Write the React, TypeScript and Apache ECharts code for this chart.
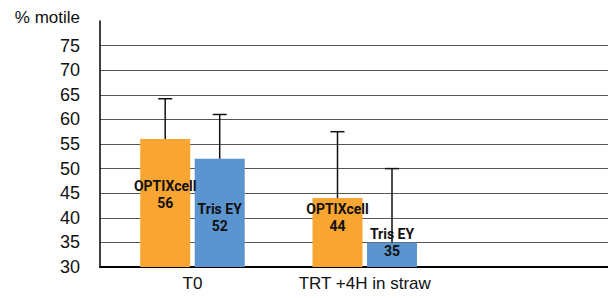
import React, { useEffect, useRef } from "react";
import * as echarts from "echarts";

const categories = ["T0", "TRT +4H in straw"];
const seriesNames = ["OPTIXcell", "Tris EY"];
const optixValues = [56, 44];
const trisValues = [52, 35];
const optixErrors = [8.2, 13.5];
const trisErrors = [9, 15];
const yMin = 30;
const yMax = 80;
const yStep = 5;

const ORANGE = "#F8A532";
const BLUE = "#5B94CE";
const BAR_W = 50;
const BAR_GAP_PX = 4.5;
const FONT = "'Liberation Sans', Arial, sans-serif";
const LABEL_FONT = "Roboto, 'Liberation Sans', sans-serif";

const optixLabelOffsets = [-8.5, -15.5];
const trisLabelOffsets = [4.5, -12];

export default function App() {
  const ref = useRef<HTMLDivElement>(null);
  useEffect(() => {
    if (!ref.current) return;
    const chart = echarts.init(ref.current, undefined, { renderer: "svg" });
    const top = 21;
    const bottom = 31;
    const labelStyle = {
      show: true,
      position: "inside",
      formatter: (p: any) => p.seriesName + "\n" + p.value,
      fontFamily: LABEL_FONT,
      fontSize: 14,
      fontWeight: "bold",
      lineHeight: 17,
      color: "#111",
    };
    const errData: any[] = [];
    optixValues.forEach((v, i) => errData.push([i, v, optixErrors[i], -1]));
    trisValues.forEach((v, i) => errData.push([i, v, trisErrors[i], 1]));
    const option: any = {
      animation: false,
      grid: [
        { left: 100, right: 0, top, bottom },
        { left: 106.3, width: 344.6, top, bottom },
      ],
      xAxis: [
        {
          gridIndex: 0,
          type: "value",
          min: 0,
          max: 1,
          axisLine: { show: true, onZero: false, lineStyle: { color: "#000", width: 2 } },
          axisTick: { show: false },
          axisLabel: { show: false },
          splitLine: { show: false },
        },
        {
          gridIndex: 1,
          type: "category",
          data: categories,
          axisLine: { show: false },
          axisTick: { show: false },
          axisLabel: { fontFamily: FONT, fontSize: 17, color: "#111", margin: 8 },
        },
      ],
      yAxis: [
        {
          gridIndex: 0,
          type: "value",
          min: yMin,
          max: yMax,
          interval: yStep,
          name: "% motile",
          nameLocation: "end",
          nameGap: 4,
          nameTextStyle: {
            fontFamily: FONT,
            fontSize: 17,
            color: "#111",
            align: "right",
            verticalAlign: "middle",
            padding: [0, 20, 0, 0],
          },
          axisLine: { show: true, lineStyle: { color: "#000", width: 1.5 } },
          axisTick: { show: false },
          axisLabel: {
            fontFamily: FONT,
            fontSize: 18,
            color: "#111",
            margin: 20,
            showMaxLabel: false,
          },
          splitLine: {
            show: true,
            showMaxLine: false,
            lineStyle: { color: "#555", width: 1 },
          },
        },
        {
          gridIndex: 1,
          type: "value",
          min: yMin,
          max: yMax,
          interval: yStep,
          show: false,
          splitLine: { show: false },
        },
      ],
      series: [
        {
          type: "bar",
          name: seriesNames[0],
          xAxisIndex: 1,
          yAxisIndex: 1,
          barWidth: BAR_W,
          barGap: (BAR_GAP_PX / BAR_W) * 100 + "%",
          itemStyle: { color: ORANGE },
          label: labelStyle,
          data: optixValues.map((v, i) => ({ value: v, label: { offset: [0, optixLabelOffsets[i]] } })),
          z: 2,
        },
        {
          type: "bar",
          name: seriesNames[1],
          xAxisIndex: 1,
          yAxisIndex: 1,
          barWidth: BAR_W,
          barGap: (BAR_GAP_PX / BAR_W) * 100 + "%",
          itemStyle: { color: BLUE },
          label: labelStyle,
          data: trisValues.map((v, i) => ({ value: v, label: { offset: [0, trisLabelOffsets[i]] } })),
          z: 2,
        },
        {
          type: "custom",
          xAxisIndex: 1,
          yAxisIndex: 1,
          z: 5,
          data: errData,
          renderItem: (params: any, api: any) => {
            const c = api.value(0);
            const v = api.value(1);
            const e = api.value(2);
            const side = api.value(3);
            const p0 = api.coord([c, v]);
            const p1 = api.coord([c, v + e]);
            const x = p0[0] + side * ((BAR_W + BAR_GAP_PX) / 2);
            const st = { stroke: "#111", lineWidth: 1.5 };
            return {
              type: "group",
              children: [
                { type: "line", shape: { x1: x, y1: p0[1], x2: x, y2: p1[1] }, style: st },
                { type: "line", shape: { x1: x - 7, y1: p1[1], x2: x + 7, y2: p1[1] }, style: st },
              ],
            };
          },
        },
      ],
    };
    chart.setOption(option);
    return () => chart.dispose();
  }, []);
  return (
    <div
      ref={ref}
      style={{ position: "fixed", left: 0, top: 0, width: 608, height: 298, background: "#fff" }}
    />
  );
}
